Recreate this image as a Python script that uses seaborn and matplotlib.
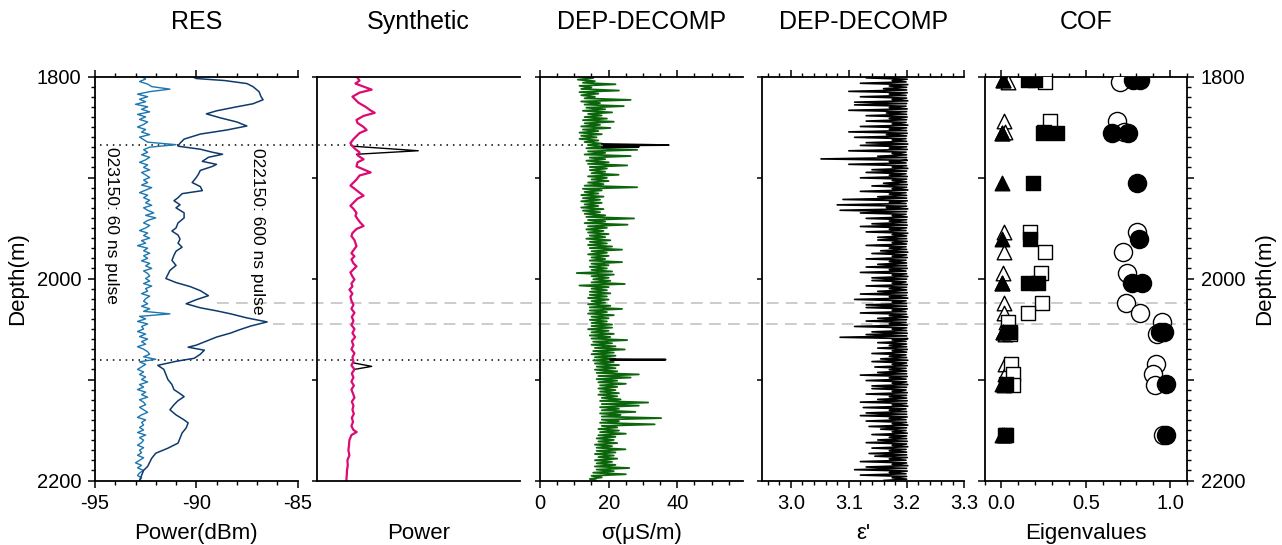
import numpy as np
import pandas as pd
import matplotlib
matplotlib.use("Agg")
import matplotlib.pyplot as plt
import seaborn as sns
from matplotlib.lines import Line2D
from matplotlib.ticker import MultipleLocator, FuncFormatter, NullLocator, FormatStrFormatter

# ---------------- data ----------------
titles = ["RES", "Synthetic", "DEP-DECOMP", "DEP-DECOMP", "COF"]
xlabels = ["Power(dBm)", "Power", "σ(μS/m)", "ε'", "Eigenvalues"]

# RES, 023150: 60 ns pulse (regularly sampled 1800-2200 m)
res60 = [-92.7, -92.5, -92.8, -92.4, -92.2, -91.3, -92.3, -92.9, -92.4, -92.8,
         -92.5, -93.0, -92.4, -92.7, -92.3, -92.9, -92.5, -92.8, -92.4, -92.6,
         -92.9, -92.5, -92.7, -92.3, -92.8, -92.6, -92.4, -91.0, -92.3, -92.6,
         -92.4, -92.7, -92.3, -92.5, -92.8, -92.4, -92.6, -92.3, -92.7, -92.5,
         -92.3, -92.6, -92.4, -92.7, -92.2, -92.5, -92.8, -92.4, -92.6, -92.3,
         -92.5, -92.2, -92.6, -92.4, -92.1, -92.5, -92.0, -92.4, -92.6, -92.3,
         -92.5, -92.8, -92.4, -92.6, -92.3, -92.7, -92.5, -92.9, -92.4, -92.6,
         -92.3, -92.6, -92.4, -92.7, -92.3, -92.5, -92.2, -92.6, -92.4, -92.3,
         -92.5, -92.3, -92.6, -92.2, -92.5, -92.4, -92.7, -92.3, -92.5, -92.6,
         -92.4, -92.7, -92.3, -92.6, -91.3, -92.8, -92.5, -92.9, -92.4, -92.7,
         -92.6, -92.9, -92.5, -92.8, -92.4, -92.7, -92.5, -92.9, -92.6, -92.4,
         -92.3, -92.6, -92.0, -92.8, -92.5, -92.7, -92.9, -92.6, -92.8, -92.5,
         -92.7, -92.4, -92.8, -92.6, -92.9, -92.5, -92.7, -92.4, -92.8, -92.6,
         -92.5, -92.8, -92.6, -92.4, -92.7, -92.9, -92.5, -92.7, -92.6, -92.8,
         -92.6, -92.9, -92.5, -92.8, -92.6, -92.7, -92.9, -92.6, -92.8, -92.7,
         -92.9, -92.6, -92.8, -93.0, -92.7, -92.9, -92.6, -92.8, -92.9, -92.7,
         -92.8]

# RES, 022150: 600 ns pulse
res600_depth = [1800, 1802, 1804, 1807, 1810, 1815, 1820, 1823, 1827, 1830,
                1834, 1837, 1841, 1845, 1849, 1853, 1857, 1862, 1866, 1869,
                1872, 1875, 1877, 1880, 1884, 1887, 1889, 1893, 1897, 1900,
                1905, 1909, 1913, 1916, 1920, 1923, 1927, 1930, 1935, 1940,
                1945, 1950, 1953, 1957, 1961, 1965, 1969, 1973, 1977, 1982,
                1987, 1992, 1996, 2000, 2004, 2008, 2012, 2017, 2021, 2025,
                2029, 2032, 2035, 2039, 2043, 2047, 2051, 2054, 2058, 2062,
                2066, 2068, 2071, 2075, 2079, 2082, 2086, 2090, 2095, 2100,
                2105, 2110, 2114, 2117, 2121, 2125, 2130, 2135, 2140, 2143,
                2148, 2153, 2158, 2163, 2168, 2173, 2178, 2182, 2186, 2190,
                2195, 2200]
res600 = [-90.2, -90.0, -88.6, -87.5, -87.2, -86.9, -86.8, -86.7, -87.2, -88.0,
          -89.0, -89.5, -88.8, -88.0, -87.5, -88.5, -89.8, -90.6, -90.8, -90.9,
          -89.8, -89.2, -88.7, -89.4, -89.7, -89.0, -89.2, -89.8, -89.9, -90.0,
          -90.2, -89.8, -89.7, -90.7, -90.9, -91.1, -90.8, -91.0, -90.6, -90.6,
          -90.9, -91.0, -91.2, -90.9, -90.8, -90.9, -90.7, -91.0, -91.1, -91.2,
          -91.0, -91.3, -91.4, -91.5, -91.0, -90.3, -89.8, -89.4, -90.0, -90.5,
          -89.8, -89.0, -88.3, -87.5, -86.5, -87.3, -87.9, -88.3, -89.0, -89.5,
          -90.0, -90.4, -89.6, -89.8, -90.1, -91.0, -91.9, -91.6, -91.5, -91.4,
          -91.2, -91.1, -90.8, -90.6, -90.9, -91.1, -91.3, -91.0, -90.6, -90.4,
          -90.5, -90.7, -90.8, -90.9, -91.4, -92.0, -92.2, -92.3, -92.4, -92.6,
          -92.7, -92.8]

# Synthetic power (arbitrary units)
syn_depth = [1800, 1804, 1807, 1810, 1813, 1816, 1820, 1823, 1826, 1830,
             1833, 1836, 1839, 1843, 1846, 1850, 1853, 1856, 1859, 1862,
             1866, 1869, 1872, 1875, 1878, 1882, 1885, 1889, 1892, 1895,
             1898, 1902, 1905, 1908, 1911, 1915, 1918, 1921, 1925, 1928,
             1931, 1935, 1938, 1941, 1945, 1948, 1951, 1955, 1958, 1962,
             1965, 1968, 1972, 1975, 1978, 1981, 1985, 1988, 1991, 1994,
             1998, 2001, 2005, 2008, 2011, 2015, 2018, 2022, 2026, 2030,
             2034, 2038, 2042, 2046, 2050, 2054, 2058, 2062, 2066, 2070,
             2074, 2078, 2082, 2086, 2090, 2094, 2098, 2102, 2106, 2110,
             2114, 2118, 2122, 2126, 2130, 2134, 2138, 2142, 2146, 2150,
             2152, 2155, 2160, 2165, 2170, 2175, 2180, 2185, 2190, 2195, 2200]
syn_power = [1.95, 2.10, 1.90, 2.30, 2.70, 2.10, 1.75, 1.90, 2.05, 2.40,
             2.60, 2.85, 2.30, 1.95, 2.00, 2.30, 2.45, 2.10, 1.95, 1.80,
             1.65, 1.75, 1.90, 2.10, 2.00, 2.30, 2.00, 1.95, 2.30, 2.65,
             2.10, 1.95, 1.80, 1.65, 1.85, 2.10, 2.30, 2.00, 1.80, 1.65,
             1.80, 1.95, 1.90, 2.00, 2.15, 2.30, 1.95, 1.75, 1.70, 1.85,
             1.90, 1.95, 1.80, 1.70, 1.85, 1.70, 1.80, 1.95, 1.80, 1.65,
             1.75, 1.85, 1.70, 1.75, 1.60, 1.75, 1.65, 1.70, 1.80, 1.70,
             1.85, 1.72, 1.80, 1.70, 1.85, 1.75, 1.88, 1.72, 1.80, 1.70,
             1.85, 1.75, 1.80, 1.70, 1.85, 1.72, 1.80, 1.70, 1.82, 1.70,
             1.78, 1.85, 1.72, 1.80, 1.75, 1.82, 1.72, 1.78, 1.70, 1.80,
             1.96, 1.70, 1.60, 1.58, 1.55, 1.60, 1.50, 1.52, 1.48, 1.47, 1.45]
# black (unfiltered) synthetic trace where it departs from the magenta one
syn_spike_depth = [1869, 1873.5, 1877, 2083.5, 2087, 2090]
syn_spike_power = [1.75, 5.0, 1.95, 1.78, 2.7, 1.85]
syn_spike_seg = [0, 0, 0, 1, 1, 1]

# DEP conductivity sigma (uS/m), regularly sampled 1800-2200 m
sigma = [12, 15.5, 11, 16, 12.5, 22, 11.5, 15, 12, 23,
         11.5, 17, 12, 16, 13, 26.4, 12, 17.5, 13, 24.4,
         13.5, 19, 12.5, 21, 14, 18, 13, 19.5, 12.5, 21.5,
         13, 17.5, 12, 20.5, 12.5, 17, 11.5, 18, 12, 16.5,
         11.5, 17, 13, 18, 14, 19, 13.5, 28.3, 14, 19,
         13, 26.4, 14.5, 19, 13.5, 20, 14, 25.4, 14.5, 19.5,
         14.5, 19, 15, 22.9, 14, 19.5, 15, 20, 14, 18.5,
         13, 28.3, 12.5, 18, 13, 17, 12, 18.5, 12.5, 17.5,
         12, 18, 13, 17, 12, 18.5, 12.5, 17.5, 13, 19,
         13.5, 27.4, 14, 19, 13, 25.5, 14, 19.5, 13.5, 18.5,
         14, 20, 14.5, 19, 13.5, 20.5, 14.5, 19.5, 14, 21,
         14.5, 23.9, 15, 19.5, 14, 20, 15, 19, 14.5, 23.9,
         15, 20, 14.5, 19.5, 15, 21, 10.7, 21.5, 15, 20,
         15.5, 20.5, 15, 24.7, 11.5, 20, 15, 19.5, 14.5, 20.5,
         14.5, 19.5, 14, 20, 15, 19, 14, 20.5, 14.5, 23.9,
         14.5, 19.5, 14, 21.5, 15, 20, 14.5, 19.5, 15, 21,
         15, 21, 14, 20, 15, 21.5, 14.5, 20.5, 15, 25.4,
         15.5, 21, 15, 22, 16, 24.7, 15.5, 21.5, 15, 22,
         16, 22, 15.5, 21.5, 16, 23, 16.5, 22, 16, 22.5,
         16.5, 28.8, 17, 26.4, 16.5, 22.5, 17, 25, 17.5, 22.5,
         17, 22, 17.5, 23, 17, 22.5, 18, 23.5, 17.5, 31.5,
         18, 28.8, 17.5, 23, 18, 27.8, 17.5, 23.5, 18, 35.3,
         18, 23, 17.5, 33.4, 18, 22.5, 17, 23, 17.5, 25,
         17, 22, 16.5, 21.5, 17, 22.5, 16, 21, 16.5, 24.9,
         16.5, 22, 16, 21.5, 17, 22.5, 16, 21, 16.5, 22,
         16, 26, 16.5, 21.5, 15.5, 25, 15, 18, 14.5, 16.5]
sigma_spike_depth = [1866.8, 1867.9, 1868.4, 1869.6, 1870.2, 2079.8, 2080.3, 2080.8]
sigma_spike = [18, 37.5, 18.5, 28.8, 18, 20.5, 36.6, 20.5]
sigma_spike_seg = [0, 0, 0, 0, 0, 1, 1, 1]

# DEP permittivity eps', regularly sampled 1800-2200 m
eps = [3.200, 3.13, 3.201, 3.175, 3.199, 3.12, 3.202, 3.17, 3.200, 3.16,
       3.200, 3.10, 3.201, 3.17, 3.199, 3.12, 3.200, 3.175, 3.202, 3.11,
       3.200, 3.11, 3.199, 3.17, 3.201, 3.10, 3.200, 3.165, 3.200, 3.13,
       3.201, 3.17, 3.200, 3.13, 3.199, 3.175, 3.202, 3.12, 3.200, 3.17,
       3.200, 3.10, 3.201, 3.165, 3.200, 3.11, 3.199, 3.175, 3.200, 3.13,
       3.202, 3.12, 3.200, 3.17, 3.201, 3.10, 3.199, 3.175, 3.200, 3.15,
       3.200, 3.052, 3.201, 3.17, 3.199, 3.10, 3.200, 3.175, 3.202, 3.14,
       3.200, 3.13, 3.199, 3.17, 3.201, 3.12, 3.200, 3.175, 3.200, 3.16,
       3.201, 3.14, 3.200, 3.175, 3.202, 3.12, 3.199, 3.17, 3.200, 3.15,
       3.200, 3.09, 3.201, 3.17, 3.199, 3.08, 3.200, 3.165, 3.202, 3.085,
       3.200, 3.12, 3.199, 3.175, 3.201, 3.13, 3.200, 3.17, 3.200, 3.14,
       3.201, 3.12, 3.200, 3.17, 3.199, 3.13, 3.202, 3.175, 3.200, 3.15,
       3.200, 3.15, 3.201, 3.175, 3.200, 3.13, 3.199, 3.17, 3.200, 3.155,
       3.202, 3.14, 3.200, 3.175, 3.201, 3.13, 3.199, 3.17, 3.200, 3.15,
       3.200, 3.13, 3.201, 3.17, 3.199, 3.12, 3.200, 3.175, 3.202, 3.14,
       3.200, 3.14, 3.199, 3.175, 3.201, 3.13, 3.200, 3.17, 3.200, 3.15,
       3.201, 3.12, 3.200, 3.17, 3.202, 3.11, 3.199, 3.175, 3.200, 3.13,
       3.200, 3.13, 3.201, 3.175, 3.199, 3.12, 3.200, 3.17, 3.202, 3.15,
       3.200, 3.13, 3.199, 3.17, 3.201, 3.11, 3.200, 3.175, 3.200, 3.14,
       3.201, 3.13, 3.200, 3.085, 3.202, 3.175, 3.199, 3.15, 3.200, 3.17,
       3.200, 3.15, 3.201, 3.175, 3.200, 3.14, 3.199, 3.17, 3.200, 3.155,
       3.202, 3.14, 3.200, 3.175, 3.201, 3.145, 3.199, 3.17, 3.200, 3.15,
       3.200, 3.12, 3.201, 3.17, 3.199, 3.13, 3.200, 3.175, 3.202, 3.14,
       3.200, 3.14, 3.199, 3.175, 3.201, 3.13, 3.200, 3.17, 3.200, 3.15,
       3.201, 3.12, 3.200, 3.175, 3.202, 3.125, 3.199, 3.17, 3.200, 3.13,
       3.200, 3.12, 3.201, 3.17, 3.199, 3.13, 3.200, 3.175, 3.202, 3.135,
       3.200, 3.155, 3.199, 3.175, 3.201, 3.14, 3.200, 3.17, 3.200, 3.15,
       3.201, 3.13, 3.200, 3.175, 3.202, 3.14, 3.199, 3.17, 3.200, 3.135,
       3.200, 3.145, 3.201, 3.17, 3.199, 3.12, 3.200, 3.175, 3.202, 3.13,
       3.200, 3.11, 3.201, 3.17, 3.199, 3.12, 3.200, 3.175, 3.200, 3.16]

# COF eigenvalues: open symbols
cof_open_depth = [1805, 1844.5, 1855, 1953.5, 1974, 1994.6, 2024.5, 2034.3,
                  2043.5, 2054.7, 2084.5, 2094.6, 2105.5, 2154.7]
cof_open_e1 = [0.04, 0.016, 0.02, 0.016, 0.016, 0.01, 0.016, 0.016,
               0.026, 0.02, 0.02, 0.02, 0.016, 0.016]
cof_open_e2 = [0.257, 0.287, 0.251, 0.172, 0.257, 0.232, 0.238, 0.158,
               0.04, 0.05, 0.059, 0.069, 0.069, 0.026]
cof_open_e3 = [0.703, 0.683, 0.727, 0.802, 0.719, 0.746, 0.736, 0.822,
               0.951, 0.921, 0.915, 0.901, 0.911, 0.957]
# COF eigenvalues: filled symbols
cof_fill_depth = [1803, 1803, 1855.5, 1855.5, 1905, 1960.5, 2004.6, 2004.6,
                  2053.4, 2053.4, 2104.5, 2154.7]
cof_fill_e1 = [0.01, 0.01, 0.004, 0.004, 0.004, 0.004, 0.004, 0.004,
               0.01, 0.01, 0.004, 0.004]
cof_fill_e2 = [0.158, 0.198, 0.244, 0.33, 0.188, 0.172, 0.158, 0.218,
               0.04, 0.05, 0.03, 0.02]
cof_fill_e3 = [0.822, 0.782, 0.752, 0.653, 0.802, 0.818, 0.832, 0.772,
               0.941, 0.961, 0.976, 0.976]

marker_depths = [1867.5, 2080.3]      # dotted reflector markers
marker_bands = [2024.5, 2045.5]       # grey dashed lines

# ---------------- style ----------------
sns.set_style("ticks")
plt.rcParams["font.family"] = ["Liberation Sans", "DejaVu Sans"]
plt.rcParams["axes.unicode_minus"] = False
for k in ["text.color", "axes.labelcolor", "xtick.color", "ytick.color", "axes.edgecolor"]:
    plt.rcParams[k] = "black"
plt.rcParams["axes.linewidth"] = 1.3
plt.rcParams["xtick.major.width"] = 1.1
plt.rcParams["ytick.major.width"] = 1.1
plt.rcParams["xtick.minor.width"] = 1.0
plt.rcParams["ytick.minor.width"] = 1.0
plt.rcParams["xtick.major.size"] = 5
plt.rcParams["ytick.major.size"] = 5
plt.rcParams["xtick.minor.size"] = 3
plt.rcParams["ytick.minor.size"] = 3
plt.rcParams["xtick.direction"] = "out"
plt.rcParams["ytick.direction"] = "out"

c_light = "#1c76b0"
c_dark = "#0d3a6c"
c_pink = "#dc0a72"
c_green = "#0b660b"

W, H = 1282, 545
fig = plt.figure(figsize=(W / 100, H / 100), dpi=100)
lefts = [95, 317, 540, 762, 984.5]
aw = 202.5
top_px, bot_px = 76.5, 480.5
axes = [fig.add_axes([l / W, 1 - bot_px / H, aw / W, (bot_px - top_px) / H]) for l in lefts]
ax1, ax2, ax3, ax4, ax5 = axes

lab200 = FuncFormatter(lambda v, p: f"{int(round(v))}" if int(round(v)) % 200 == 0 else "")

# ---- panel 1: RES ----
d60 = np.linspace(1800, 2200, len(res60))
sns.lineplot(x=res60, y=d60, color=c_light, lw=1.0, estimator=None, orient="y", ax=ax1)
sns.lineplot(x=res600, y=res600_depth, color=c_dark, lw=1.1, estimator=None, orient="y", ax=ax1)
ax1.set_xlim(-95, -85)
ax1.xaxis.set_major_locator(MultipleLocator(5))
ax1.xaxis.set_minor_locator(MultipleLocator(1))
ax1.yaxis.set_major_locator(MultipleLocator(100))
ax1.yaxis.set_minor_locator(MultipleLocator(10))
ax1.yaxis.set_major_formatter(lab200)
ax1.text(-94.2, 1947, "023150: 60 ns pulse", rotation=270, ha="center", va="center", fontsize=12.5)
ax1.text(-87.0, 1953, "022150: 600 ns pulse", rotation=270, ha="center", va="center", fontsize=12.5)

# ---- panel 2: Synthetic ----
spk = pd.DataFrame({"d": syn_spike_depth, "v": syn_spike_power, "seg": syn_spike_seg})
sns.lineplot(data=spk, x="v", y="d", units="seg", estimator=None, color="black", lw=1.0,
             orient="y", ax=ax2)
sns.lineplot(x=syn_power, y=syn_depth, color=c_pink, lw=1.6, estimator=None, orient="y", ax=ax2)
ax2.set_xlim(0, 10)
ax2.set_xticks([])

# ---- panel 3: sigma ----
ds = np.linspace(1800, 2200, len(sigma))
sns.lineplot(x=sigma, y=ds, color=c_green, lw=1.3, estimator=None, orient="y", ax=ax3)
sspk = pd.DataFrame({"d": sigma_spike_depth, "v": sigma_spike, "seg": sigma_spike_seg})
sns.lineplot(data=sspk, x="v", y="d", units="seg", estimator=None, color="black", lw=1.3,
             orient="y", ax=ax3)
ax3.set_xlim(0, 59)
ax3.xaxis.set_major_locator(MultipleLocator(20))
ax3.xaxis.set_minor_locator(MultipleLocator(5))

# ---- panel 4: eps ----
de = np.linspace(1800, 2200, len(eps))
sns.lineplot(x=eps, y=de, color="black", lw=1.2, estimator=None, orient="y", ax=ax4)
ax4.set_xlim(2.95, 3.3)
ax4.xaxis.set_major_locator(MultipleLocator(0.1))
ax4.xaxis.set_minor_locator(MultipleLocator(0.02))
ax4.xaxis.set_major_formatter(FormatStrFormatter("%.1f"))

# ---- panel 5: COF ----
for vals, mk, sz in [(cof_open_e1, "^", 110), (cof_open_e2, "s", 100), (cof_open_e3, "o", 170)]:
    sns.scatterplot(x=vals, y=cof_open_depth, marker=mk, s=sz, color="white",
                    edgecolor="black", linewidth=1.0, ax=ax5, legend=False, zorder=3)
for vals, mk, sz in [(cof_fill_e1, "^", 110), (cof_fill_e2, "s", 100), (cof_fill_e3, "o", 170)]:
    sns.scatterplot(x=vals, y=cof_fill_depth, marker=mk, s=sz, color="black",
                    edgecolor="black", linewidth=1.0, ax=ax5, legend=False, zorder=4)
ax5.set_xlim(-0.1, 1.1)
ax5.xaxis.set_major_locator(MultipleLocator(0.5))
ax5.xaxis.set_minor_locator(MultipleLocator(0.1))
ax5.xaxis.set_major_formatter(FormatStrFormatter("%.1f"))

# ---- common axis styling ----
for i, ax in enumerate(axes):
    ax.set_facecolor("none")
    ax.set_ylim(2200, 1800)
    ax.tick_params(axis="x", which="both", top=(i != 1), bottom=(i != 1), labeltop=False,
                   labelbottom=(i != 1), labelsize=14.5, pad=5)
    ax.tick_params(axis="y", labelsize=14.5, pad=5)
    if i < 4:
        ax.spines["right"].set_visible(False)
    if i in (1, 2, 3):
        ax.yaxis.set_major_locator(MultipleLocator(100))
        ax.yaxis.set_minor_locator(NullLocator())
        ax.tick_params(axis="y", which="major", left=True, right=False, labelleft=False, length=3.5)
    ax.set_ylabel("")
    ax.set_xlabel(xlabels[i], fontsize=16)
    ax.xaxis.set_label_coords(0.5, -0.13)
    ax.xaxis.label.set_va("center")
    ax.text(0.5, 1.135, titles[i], transform=ax.transAxes, ha="center", va="center", fontsize=18)

ax1.tick_params(axis="y", which="both", left=True, right=False)
ax5.yaxis.set_major_locator(MultipleLocator(100))
ax5.yaxis.set_minor_locator(MultipleLocator(10))
ax5.yaxis.set_major_formatter(lab200)
ax5.tick_params(axis="y", which="major", left=True, right=True, labelleft=False, labelright=True)
ax5.tick_params(axis="y", which="minor", left=False, right=True)

ax1.set_ylabel("Depth(m)", fontsize=16)
ax1.yaxis.set_label_coords((18 - 95) / aw, 0.5)
ax1.yaxis.label.set_va("center")
ax5.set_ylabel("Depth(m)", fontsize=16)
ax5.yaxis.set_label_position("right")
ax5.yaxis.set_label_coords((1265 - 984.5) / aw, 0.5)
ax5.yaxis.label.set_va("center")
ax5.yaxis.label.set_rotation(90)

# ---- cross-panel marker lines ----
inv = fig.transFigure.inverted()
def fpt(ax, x, y):
    return inv.transform(ax.transData.transform((x, y)))

for d in marker_depths:
    p0 = fpt(ax1, -94.75, d)
    p1 = fpt(ax3, 16, d)
    fig.add_artist(Line2D([p0[0], p1[0]], [p0[1], p1[1]], transform=fig.transFigure,
                          color="black", lw=1.1, linestyle=(0, (1, 3.2)), zorder=-1))
for d, xs in zip(marker_bands, [-88.96, -86.2]):
    p0 = fpt(ax1, xs, d)
    p1 = fpt(ax5, 1.1, d)
    fig.add_artist(Line2D([p0[0], p1[0]], [p0[1], p1[1]], transform=fig.transFigure,
                          color="#c8c8c8", lw=1.3, linestyle=(0, (6.5, 4)), zorder=-1))

fig.savefig("out.png", dpi=100, facecolor="white")
